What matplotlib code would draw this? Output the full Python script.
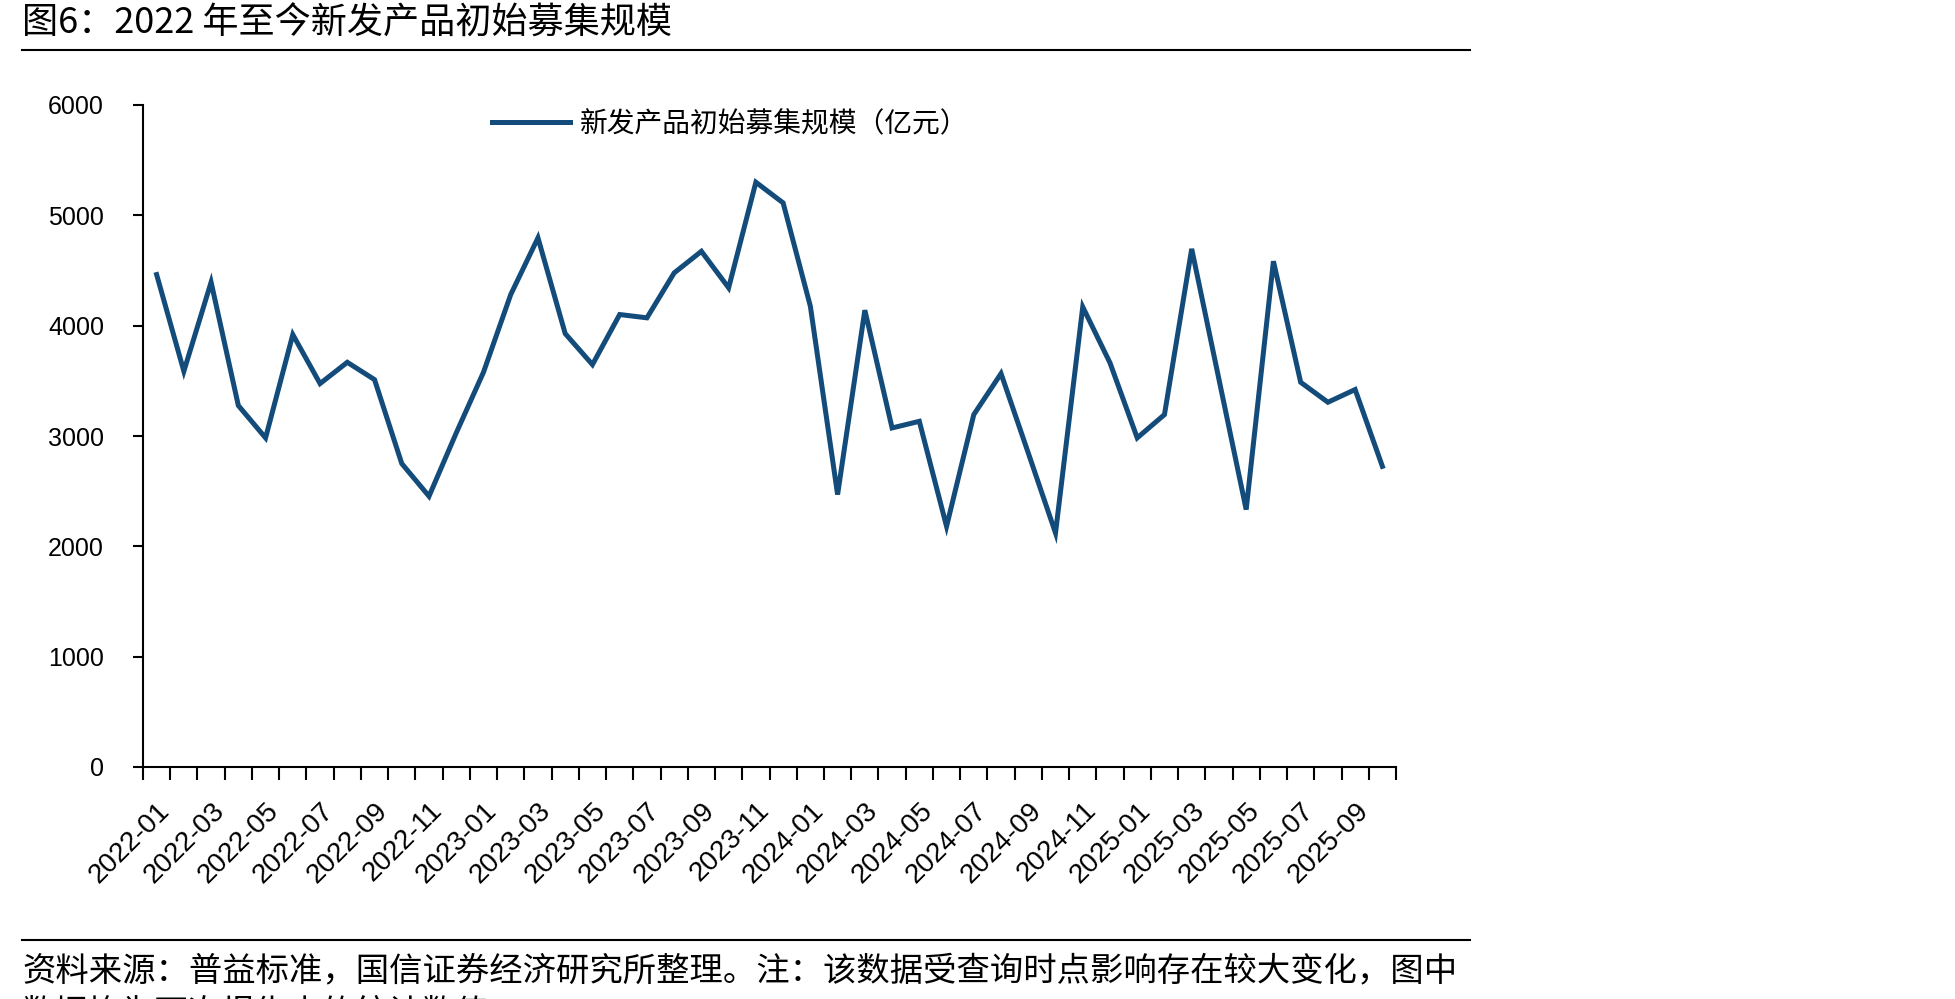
import matplotlib
matplotlib.use("Agg")
import matplotlib.pyplot as plt
from matplotlib.lines import Line2D
import numpy as np

months = [f"{y}-{m:02d}" for y in range(2022, 2026) for m in range(1, 13)][:46]
values = [4463, 3587, 4394, 3276, 2983, 3919, 3475, 3668, 3511, 2750, 2454, 3028,
          3578, 4282, 4796, 3928, 3647, 4101, 4071, 4478, 4674, 4343, 5300, 5113,
          4176, 2469, 4140, 3073, 3133, 2181, 3194, 3566, 2846, 2121, 4170, 3663,
          2983, 3194, 4696, 3514, 2333, 4584, 3487, 3306, 3421, 2725]
yticks = [0, 1000, 2000, 3000, 4000, 5000, 6000]
series_name = "新发产品初始募集规模（亿元）"
title = "图6：2022 年至今新发产品初始募集规模"
source1 = "资料来源：普益标准，国信证券经济研究所整理。注：该数据受查询时点影响存在较大变化，图中"
source2 = "数据均为下次报告中的统计数值"

CJK = ['Noto Sans CJK SC', 'DejaVu Sans']
NUM = ['Liberation Sans', 'DejaVu Sans']
W, H = 1955, 999
fig = plt.figure(figsize=(W / 100, H / 100), dpi=100)
ax = fig.add_axes([143 / W, 1 - 767 / H, (1396 - 143) / W, (767 - 105) / H])

x = np.arange(len(values))
ax.plot(x, values, color='#134b7a', lw=3.6, solid_joinstyle='miter')

ax.set_xlim(-0.5, len(values) - 0.5)
ax.set_ylim(0, 6000)
ax.set_yticks(yticks)
ax.set_yticklabels([str(v) for v in yticks], family=NUM, fontsize=18)
ax.tick_params(axis='y', direction='out', length=7, width=1.5, pad=21)

ax.set_xticks(np.arange(-0.5, len(values) + 0.5, 1.0))
ax.set_xticklabels([])
ax.tick_params(axis='x', which='major', direction='out', length=9, width=1.5)
ax.set_xticks(x[::2], minor=True)
ax.set_xticklabels(months[::2], minor=True, rotation=45, ha='right',
                   rotation_mode='anchor', family=NUM, fontsize=20)
ax.tick_params(axis='x', which='minor', length=0, pad=22)

for s in ['top', 'right']:
    ax.spines[s].set_visible(False)
for s in ['left', 'bottom']:
    ax.spines[s].set_linewidth(1.5)
    ax.spines[s].set_color('black')

fig.legend([Line2D([], [], color='#134b7a', lw=3.6)], [series_name],
           loc='center left', bbox_to_anchor=(492 / W, 1 - 124 / H),
           frameon=False, handlelength=2.8, handletextpad=0.35,
           borderpad=0, borderaxespad=0, prop={'family': CJK, 'size': 20})

fig.text(22 / W, 1 - 23.5 / H, title, family=CJK, fontsize=26, va='center', ha='left')
fig.add_artist(Line2D([22 / W, 1470 / W], [1 - 50 / H, 1 - 50 / H], color='black', lw=1.5))
fig.add_artist(Line2D([22 / W, 1470 / W], [1 - 940 / H, 1 - 940 / H], color='black', lw=1.5))
fig.text(22 / W, 1 - 971 / H, source1, family=CJK, fontsize=24, va='center', ha='left')
fig.text(22 / W, 1 - 1013 / H, source2, family=CJK, fontsize=24, va='center', ha='left')

fig.savefig("out.png", dpi=100)
